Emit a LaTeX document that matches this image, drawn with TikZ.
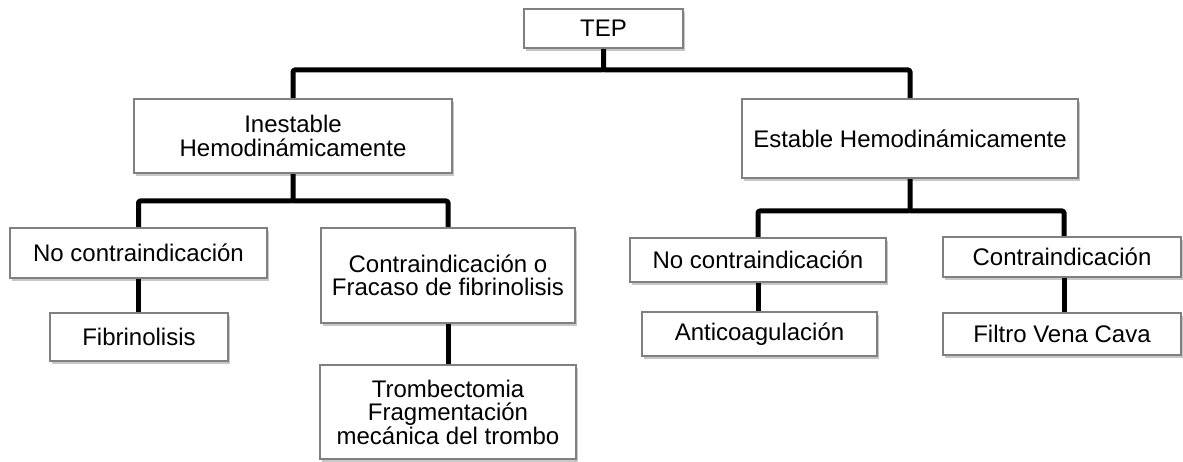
\documentclass[tikz,border=0pt]{standalone}
\usepackage{fontspec}
\setmainfont{Liberation Sans}
\usetikzlibrary{shadows,backgrounds}
\definecolor{boxline}{HTML}{808080}
\tikzset{
  box/.style={draw=boxline, line width=1.2pt, fill=white, inner sep=0pt, align=center,
    font=\fontsize{24}{23.5}\selectfont,
    drop shadow={shadow xshift=1.5pt, shadow yshift=-3pt, fill=black, opacity=0.22}},
  conn/.style={draw=black, line width=5pt, rounded corners=1.5pt, line join=round}
}
\begin{document}
\begin{tikzpicture}[x=1pt,y=-1pt]
\useasboundingbox (0,0) rectangle (1183,462);
% nodes
\node[box, minimum width=159pt, minimum height=39pt] (tep) at (603.5,28.5) {TEP};
\node[box, minimum width=318pt, minimum height=74pt] (ines) at (293,136) {Inestable\\Hemodinámicamente};
\node[box, minimum width=336pt, minimum height=79pt] (est) at (910,138.5) {Estable Hemodinámicamente};
\node[box, minimum width=257pt, minimum height=50pt] (noc1) at (138.5,253) {No contraindicación};
\node[box, minimum width=254pt, minimum height=95pt] (cof) at (448,275.5) {Contraindicación o\\Fracaso de fibrinolisis};
\node[box, minimum width=178pt, minimum height=48pt] (fib) at (139,337) {Fibrinolisis};
\node[box, minimum width=256pt, minimum height=94pt] (tromb) at (448,412) {Trombectomia\\Fragmentación\\mecánica del trombo};
\node[box, minimum width=256pt, minimum height=44pt] (noc2) at (758,260) {No contraindicación};
\node[box, minimum width=235pt, minimum height=44pt] (antic) at (759.5,334) {Anticoagulación};
\node[box, minimum width=238pt, minimum height=40pt] (contra) at (1062,257) {Contraindicación};
\node[box, minimum width=238pt, minimum height=42pt] (filtro) at (1062,334) {Filtro Vena Cava};
% bus coordinates
\coordinate (bus0) at (0,70);
\coordinate (bus1) at (0,201);
\coordinate (bus2) at (0,211);
\begin{pgfonlayer}{background}
\draw[conn] (tep.south) -- (tep.south |- bus0) -| (ines.north);
\draw[conn] (tep.south |- bus0) -| (est.north);
\draw[conn] (ines.south) -- (ines.south |- bus1) -| (noc1.north);
\draw[conn] (ines.south |- bus1) -| (cof.north);
\draw[conn] (est.south) -- (est.south |- bus2) -| (noc2.north);
\draw[conn] (est.south |- bus2) -| ([xshift=2pt]contra.north);
\draw[conn] (noc1.south) -- (fib.north -| noc1.south);
\draw[conn] (cof.south) -- (tromb.north);
\draw[conn] (noc2.south) -- (antic.north -| noc2.south);
\draw[conn] ([xshift=2pt]contra.south) -- ([xshift=2pt]filtro.north);
\end{pgfonlayer}
\end{tikzpicture}
\end{document}
